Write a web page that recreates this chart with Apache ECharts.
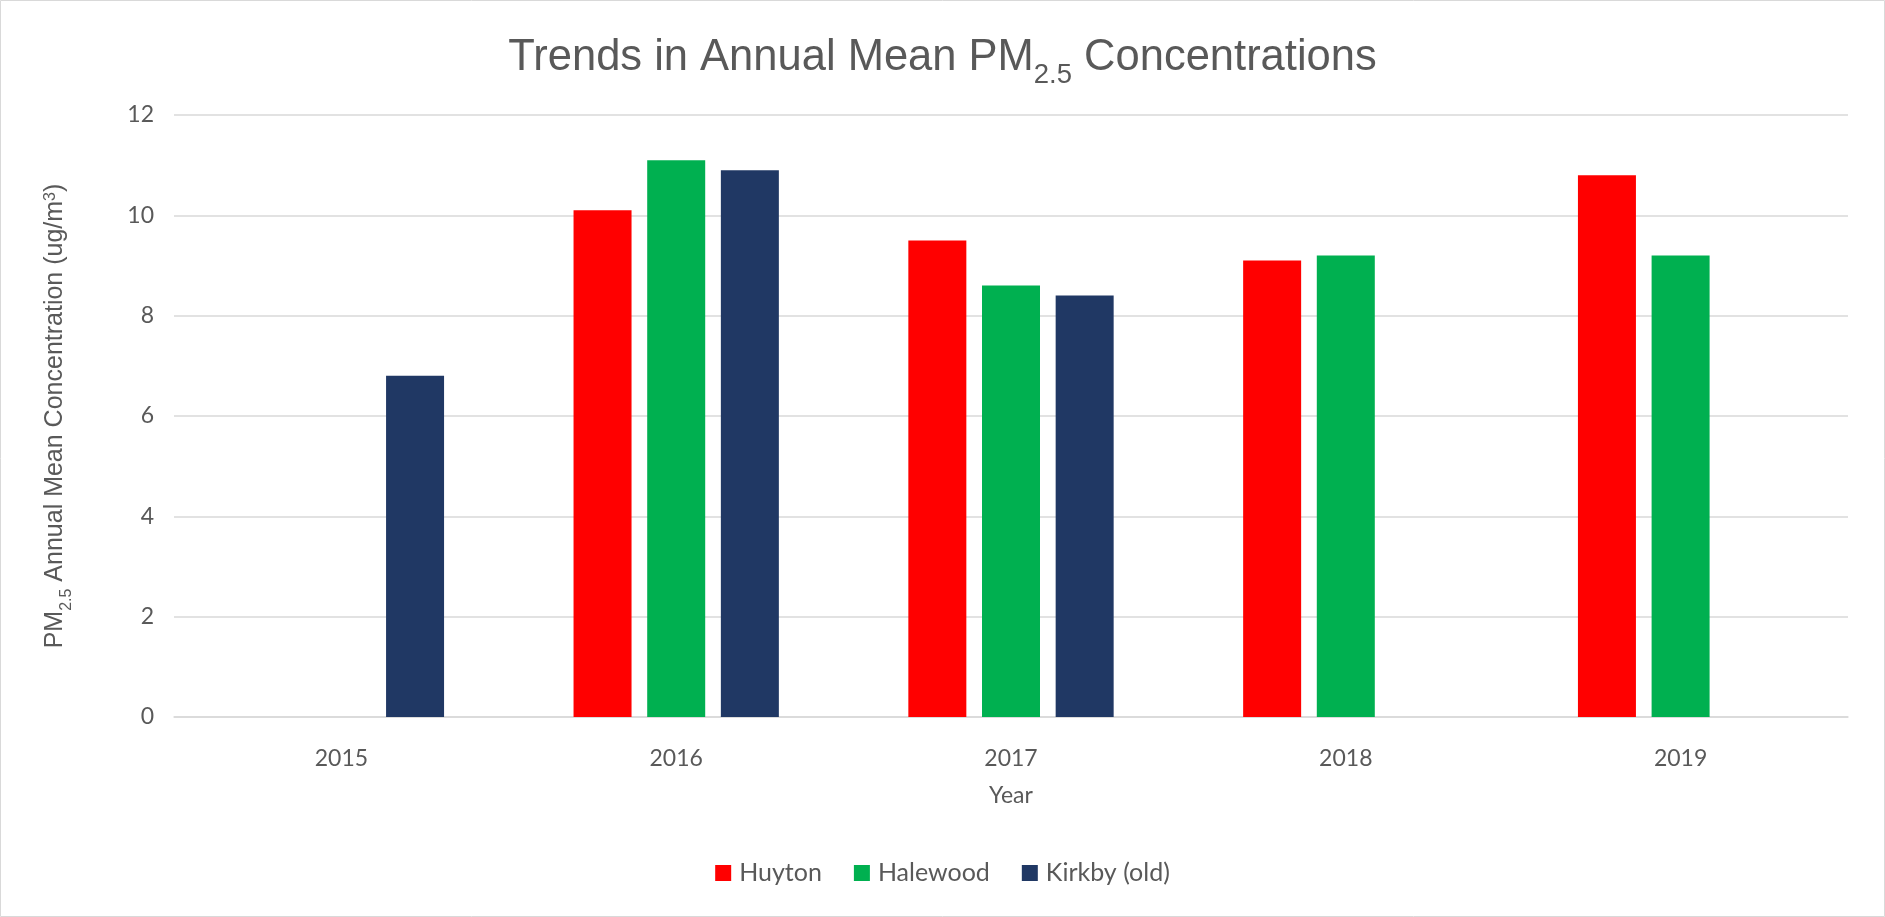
<!DOCTYPE html>
<html>
<head>
<meta charset="utf-8">
<title>Trends in Annual Mean PM2.5 Concentrations</title>
<script src="https://cdn.jsdelivr.net/npm/echarts@6/dist/echarts.min.js"></script>
<style>
  html, body { margin: 0; padding: 0; background: #ffffff; }
  #chart { width: 1885px; height: 917px; }
</style>
</head>
<body>
<div id="chart"></div>
<script>
// Monitoring years
const years = ['2015', '2016', '2017', '2018', '2019'];

// Annual mean PM2.5 per site (ug/m3); null = no measurement that year
const huyton   = [null, 10.1, 9.5, 9.1, 10.8];
const halewood = [null, 11.1, 8.6, 9.2, 9.2];
const kirkby   = [6.8, 10.9, 8.4, null, null];

const seriesNames = ['Huyton', 'Halewood', 'Kirkby (old)'];
const seriesColors = ['#ff0000', '#00b050', '#203864'];

// Value axis settings
const yMin = 0;
const yMax = 12;
const yStep = 2;

const textGrey = '#595959';
const gridGrey = '#d9d9d9';
const labelFont = 'Lato';
const headFont = 'Liberation Sans';

const chart = echarts.init(document.getElementById('chart'), null, { renderer: 'canvas' });

function barSeries(name, values, color) {
  return {
    name: name,
    type: 'bar',
    data: values,
    barWidth: 58,
    barGap: '27%',
    itemStyle: { color: color },
    emphasis: { disabled: true }
  };
}

const option = {
  animation: false,
  backgroundColor: '#ffffff',
  title: {
    text: '{a|Trends in Annual Mean PM}{s|2.5}{a| Concentrations}',
    left: 'center',
    top: 36,
    padding: 0,
    textStyle: {
      fontWeight: 'normal',
      rich: {
        a: { fontFamily: headFont, fontSize: 43.5, fontWeight: 'normal', color: textGrey, lineHeight: 48, verticalAlign: 'top' },
        s: { fontFamily: headFont, fontSize: 27.5, fontWeight: 'normal', color: textGrey, lineHeight: 28, verticalAlign: 'top', padding: [25, 0, 0, 0] }
      }
    }
  },
  legend: {
    data: seriesNames,
    left: 'center',
    top: 860,
    padding: 0,
    icon: 'rect',
    itemWidth: 16,
    itemHeight: 16,
    itemGap: 32,
    textStyle: { fontFamily: labelFont, fontSize: 25, color: textGrey, lineHeight: 26, padding: [0, 0, 0, 3] }
  },
  grid: {
    left: 174,
    right: 37,
    top: 115,
    bottom: 200,
    containLabel: false
  },
  xAxis: {
    type: 'category',
    data: years,
    name: 'Year',
    nameLocation: 'middle',
    nameGap: 67,
    nameTextStyle: { fontFamily: labelFont, fontSize: 23, color: textGrey },
    axisTick: { show: false },
    axisLine: { lineStyle: { color: gridGrey, width: 1.5 } },
    axisLabel: { fontFamily: labelFont, fontSize: 23, color: textGrey, margin: 30 }
  },
  yAxis: {
    type: 'value',
    min: yMin,
    max: yMax,
    interval: yStep,
    name: '{n|PM}{b|2.5}{n| Annual Mean Concentration (ug/m}{p|3}{n|)}',
    nameLocation: 'middle',
    nameRotate: 90,
    nameGap: 101,
    nameTextStyle: {
      rich: {
        n: { fontFamily: headFont, fontSize: 25, color: textGrey, lineHeight: 30, verticalAlign: 'top' },
        b: { fontFamily: headFont, fontSize: 16, color: textGrey, lineHeight: 16, verticalAlign: 'top', padding: [16, 0, 0, 0] },
        p: { fontFamily: headFont, fontSize: 16, color: textGrey, lineHeight: 16, verticalAlign: 'top' }
      }
    },
    axisLine: { show: false },
    axisTick: { show: false },
    splitLine: { lineStyle: { color: gridGrey, width: 1.5 } },
    axisLabel: { fontFamily: labelFont, fontSize: 23, color: textGrey, margin: 20 }
  },
  series: [
    barSeries(seriesNames[0], huyton, seriesColors[0]),
    barSeries(seriesNames[1], halewood, seriesColors[1]),
    barSeries(seriesNames[2], kirkby, seriesColors[2])
  ],
  graphic: [{
    type: 'rect',
    shape: { x: 0.5, y: 0.5, width: 1884, height: 916 },
    style: { fill: 'none', stroke: gridGrey, lineWidth: 1 },
    silent: true
  }]
};

chart.setOption(option);
</script>
</body>
</html>
